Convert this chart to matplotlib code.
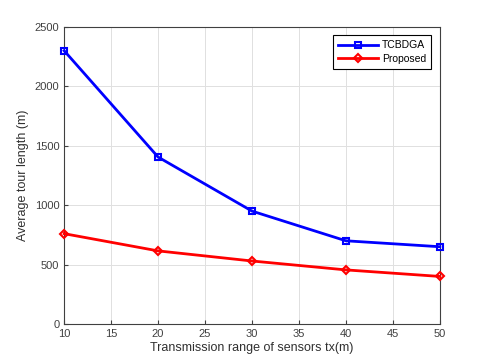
import matplotlib
matplotlib.use("Agg")
import matplotlib.pyplot as plt

tx_range = [10, 20, 30, 40, 50]
tcbdga = [2300, 1405, 950, 700, 650]
proposed = [760, 615, 530, 455, 400]

plt.rcParams["font.family"] = ["Liberation Sans", "DejaVu Sans"]

fig = plt.figure(figsize=(4.86, 3.64), dpi=100)
ax = fig.add_axes([0.132, 0.110, 0.773, 0.816])

ax.plot(tx_range, tcbdga, color="#0000ff", linewidth=2, marker="s", markersize=4.5,
        markerfacecolor="none", markeredgewidth=1.5, label="TCBDGA", clip_on=False, zorder=3)
ax.plot(tx_range, proposed, color="#ff0000", linewidth=2, marker="D", markersize=4.5,
        markerfacecolor="none", markeredgewidth=1.5, label="Proposed", clip_on=False, zorder=3)

ax.set_xlim(10, 50)
ax.set_ylim(0, 2500)
ax.set_xticks(range(10, 51, 5))
ax.set_yticks(range(0, 2501, 500))
ax.tick_params(labelsize=8, colors="#404040", direction="in", length=3)
ax.grid(True, color="#e0e0e0", linewidth=0.7)
for s in ax.spines.values():
    s.set_color("#404040")
ax.set_xlabel("Transmission range of sensors tx(m)", fontsize=9, color="#303030", labelpad=2)
ax.set_ylabel("Average tour length (m)", fontsize=9, color="#303030")

leg = ax.legend(loc="upper right", fontsize=7.5, fancybox=False, framealpha=1,
                edgecolor="#000000", borderaxespad=0.8, handlelength=3.8,
                handletextpad=0.4, borderpad=0.5, labelspacing=0.3)
leg.get_frame().set_linewidth(0.8)

fig.savefig("out.png", dpi=100)
